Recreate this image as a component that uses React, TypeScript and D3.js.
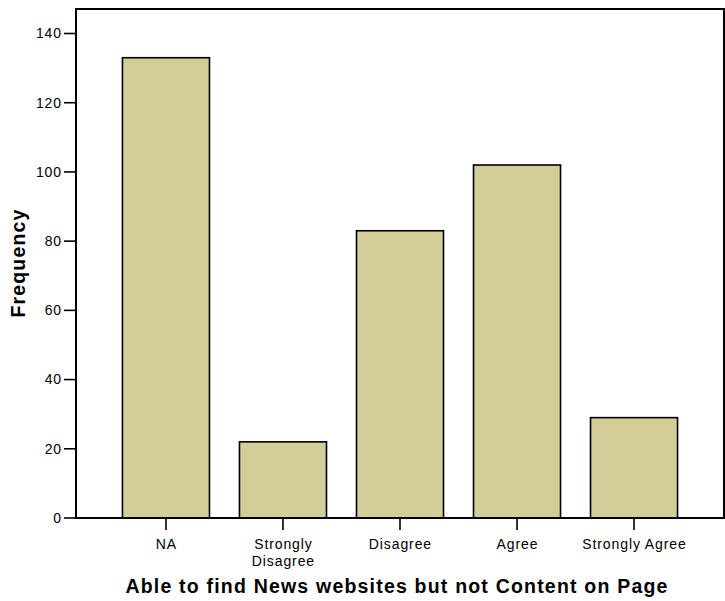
import React from "react";
import * as d3 from "d3";

const categories: string[][] = [["NA"], ["Strongly", "Disagree"], ["Disagree"], ["Agree"], ["Strongly Agree"]];
const categoryKeys = ["NA", "Strongly Disagree", "Disagree", "Agree", "Strongly Agree"];
const frequencies = [133, 22, 83, 102, 29];
const yTicks = [0, 20, 40, 60, 80, 100, 120, 140];
const xTitle = "Able to find News websites but not Content on Page";
const yTitle = "Frequency";

const W = 725;
const H = 601;
const left = 76;
const right = 724;
const top = 9;
const bottom = 518;
const FONT = "Arial, 'Liberation Sans', Helvetica, sans-serif";

export default function App() {
  const x = d3
    .scaleBand<string>()
    .domain(categoryKeys)
    .range([left, right])
    .paddingInner(0.2564)
    .paddingOuter(0.397);
  const y = d3.scaleLinear().domain([0, 140]).range([bottom, 33.5]);

  return (
    <svg
      width={W}
      height={H}
      style={{ position: "absolute", left: 0, top: 0, background: "#fff" }}
      fontFamily={FONT}
    >
      <rect x={0} y={0} width={W} height={H} fill="#fff" />
      {categoryKeys.map((k, i) => (
        <rect
          key={k}
          x={x(k)!}
          y={y(frequencies[i])}
          width={x.bandwidth()}
          height={y(0) - y(frequencies[i])}
          fill="#d3ce98"
          stroke="#000"
          strokeWidth={1.6}
        />
      ))}
      <rect
        x={left}
        y={top}
        width={right - left}
        height={bottom - top}
        fill="none"
        stroke="#000"
        strokeWidth={2}
      />
      {yTicks.map((t) => (
        <g key={t}>
          <line x1={64} x2={left} y1={y(t)} y2={y(t)} stroke="#000" strokeWidth={1.6} />
          <text
            x={62}
            y={y(t)}
            dy="0.35em"
            textAnchor="end"
            fontSize={14}
            letterSpacing={0.9}
            fill="#000"
          >
            {t}
          </text>
        </g>
      ))}
      {categoryKeys.map((k, i) => {
        const cx = x(k)! + x.bandwidth() / 2;
        return (
          <g key={k}>
            <line x1={cx} x2={cx} y1={bottom} y2={530} stroke="#000" strokeWidth={1.6} />
            {categories[i].map((line, j) => (
              <text
                key={j}
                x={cx + 0.45}
                y={549 + j * 17}
                textAnchor="middle"
                fontSize={14}
                letterSpacing={0.9}
                fill="#000"
              >
                {line}
              </text>
            ))}
          </g>
        );
      })}
      <text
        x={397}
        y={593}
        textAnchor="middle"
        fontSize={19.5}
        letterSpacing={1.2}
        fontWeight="bold"
        fill="#000"
      >
        {xTitle}
      </text>
      <text
        transform={`translate(25, 263) rotate(-90)`}
        textAnchor="middle"
        fontSize={19.5}
        letterSpacing={1.15}
        fontWeight="bold"
        fill="#000"
      >
        {yTitle}
      </text>
    </svg>
  );
}
